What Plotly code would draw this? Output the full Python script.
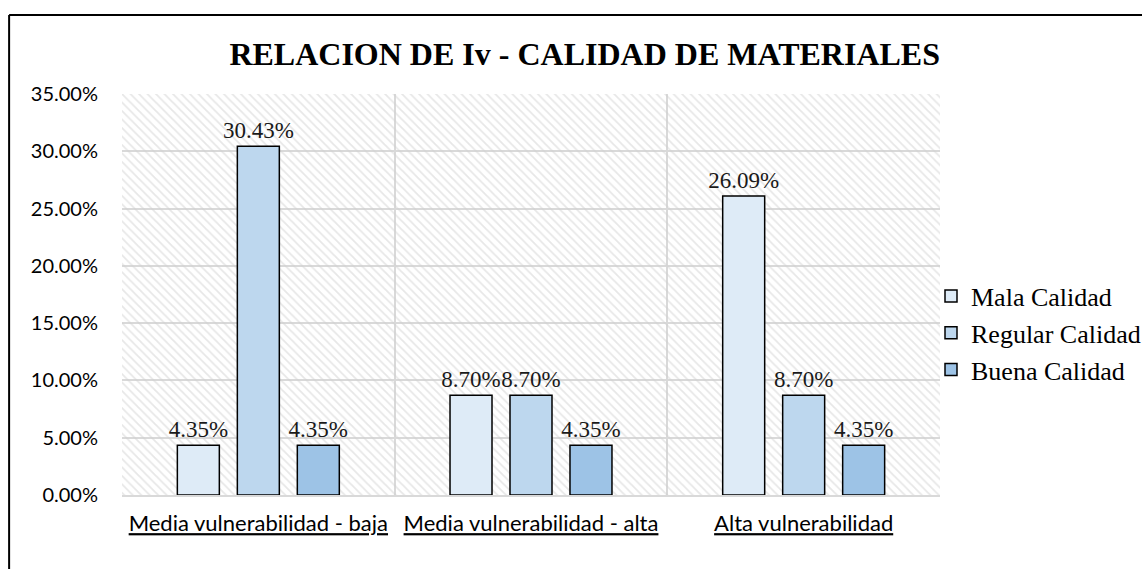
import plotly.graph_objects as go

categories = ["Media vulnerabilidad - baja", "Media vulnerabilidad - alta", "Alta vulnerabilidad"]
series_names = ["Mala Calidad", "Regular Calidad", "Buena Calidad"]
mala = [0.0435, 0.0870, 0.2609]
regular = [0.3043, 0.0870, 0.0870]
buena = [0.0435, 0.0435, 0.0435]
colors = ["#DEEBF7", "#BDD7EE", "#9DC3E6"]
Y_MAX = 0.35

fig = go.Figure()

# decorative hatched plot background (on the main, hidden numeric axis)
fig.add_trace(go.Bar(
    x=[0.5], y=[Y_MAX], width=[1], xaxis="x", yaxis="y",
    marker=dict(color="rgba(0,0,0,0)", line=dict(width=0),
                pattern=dict(shape="\\", fgcolor="#d0d0d0", bgcolor="rgba(0,0,0,0)",
                             size=6, solidity=0.3, fillmode="overlay")),
    showlegend=False, hoverinfo="skip",
))

for name, vals, col in zip(series_names, [mala, regular, buena], colors):
    fig.add_trace(go.Bar(
        x=categories, y=vals, name=name, xaxis="x2", yaxis="y",
        marker=dict(color=col, line=dict(color="#000000", width=1.5)),
        texttemplate="%{y:.2%}", textposition="outside", cliponaxis=False,
        constraintext="none",
        textfont=dict(family="Liberation Serif", size=23, color="#1a1a1a"),
    ))

fig.update_layout(
    width=1142, height=569,
    margin=dict(l=122, r=202, t=94, b=74, autoexpand=False),
    paper_bgcolor="white", plot_bgcolor="white",
    barmode="group", bargap=0.34, bargroupgap=0.3,
    title=dict(text="<b>RELACION DE Iv - CALIDAD DE MATERIALES</b>",
               x=0.512, xanchor="center", y=0.905, yanchor="middle",
               font=dict(family="Liberation Serif", size=32, color="#000000")),
    xaxis=dict(range=[0, 1], visible=False, showgrid=False, zeroline=False),
    xaxis2=dict(overlaying="x", side="bottom", type="category",
                tickmode="array", tickvals=categories,
                ticktext=["<u>" + c + "</u>" for c in categories],
                tickson="boundaries", showgrid=True, gridcolor="#d9d9d9", gridwidth=1.5,
                ticks="", showline=True, linecolor="#d9d9d9", linewidth=1.5,
                ticklabelstandoff=8,
                tickfont=dict(family="Lato", size=22, color="#000000")),
    yaxis=dict(range=[0, Y_MAX], dtick=0.05, tickformat=".2%",
               showgrid=True, gridcolor="#d9d9d9", gridwidth=1.5, zeroline=False,
               ticks="", ticklen=0, ticklabelstandoff=23,
               tickfont=dict(family="Lato", size=20, color="#000000")),
    legend=dict(x=0.989, xanchor="left", y=0.404, yanchor="middle",
                font=dict(family="Liberation Serif", size=26, color="#000000"),
                itemwidth=30, tracegroupgap=0, bgcolor="rgba(0,0,0,0)"),
    showlegend=True,
    shapes=[
        dict(type="line", xref="paper", yref="paper", x0=-0.138, x1=-0.138, y0=1.197, y1=-0.3,
             line=dict(color="#000000", width=2)),
        dict(type="line", xref="paper", yref="paper", x0=-0.138, x1=1.3, y0=1.197, y1=1.197,
             line=dict(color="#000000", width=2)),
    ],
)

fig.write_html("out.html", config={"displayModeBar": False},
               post_script="document.body.style.margin='0';")
